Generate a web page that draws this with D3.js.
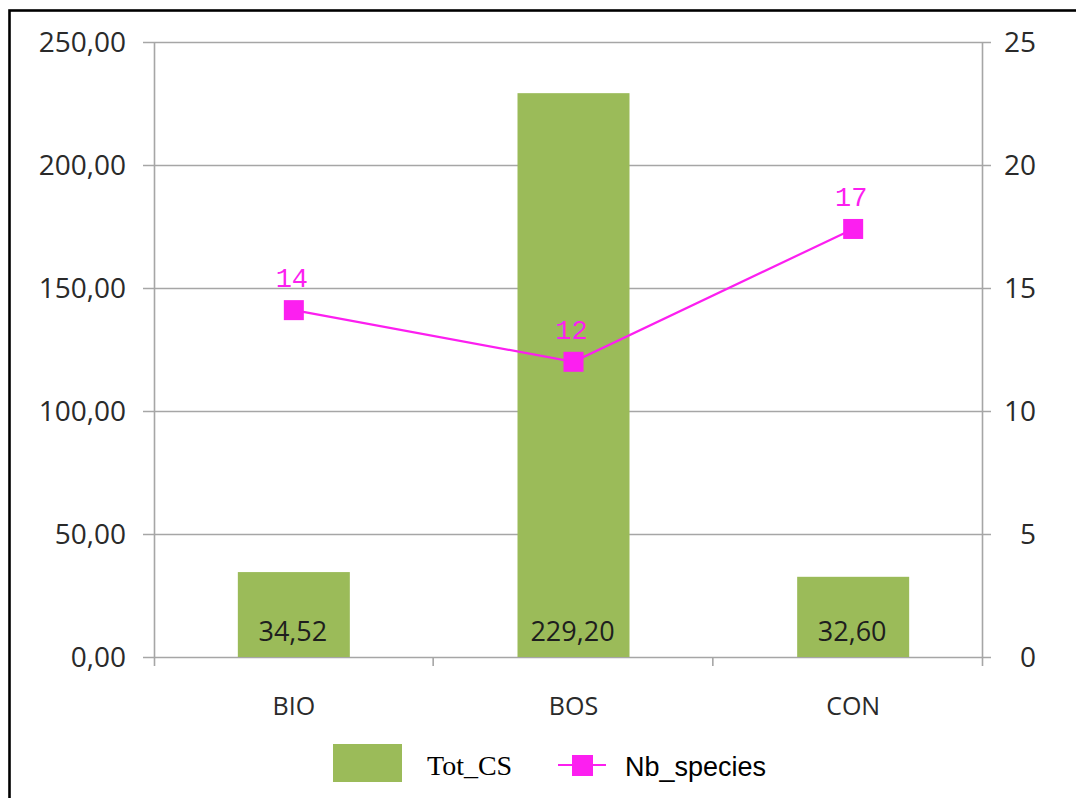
<!DOCTYPE html>
<html>
<head>
<meta charset="utf-8">
<script src="https://cdn.jsdelivr.net/npm/d3@7"></script>
<style>
  html, body { margin: 0; padding: 0; background: #fff; }
  svg { display: block; }
</style>
</head>
<body>
<script>
// ---- data ----
const categories = ["BIO", "BOS", "CON"];
const totCS = [34.52, 229.20, 32.60];
const nbSpecies = [14.1, 12.0, 17.4];
const leftTicks = [0, 50, 100, 150, 200, 250];
const rightTicks = [0, 5, 10, 15, 20, 25];
const seriesNames = ["Tot_CS", "Nb_species"];

(function () {
const W = 1076, H = 798;
const svg = d3.select("body").append("svg").attr("width", W).attr("height", H);
svg.append("rect").attr("width", W).attr("height", H).attr("fill", "#fff");

// frame (left and top edges visible)
svg.append("rect").attr("x", 9.5).attr("y", 10.5).attr("width", 1200).attr("height", 1000)
  .attr("fill", "none").attr("stroke", "#000").attr("stroke-width", 2.6);

const pLeft = 154, pRight = 982, pTop = 42, pBottom = 657;
const x = d3.scaleBand().domain(categories).range([pLeft, 993]).paddingInner(0).paddingOuter(0);
const yL = d3.scaleLinear().domain([0, 250]).range([pBottom, pTop]);
const yR = d3.scaleLinear().domain([0, 25]).range([pBottom, pTop]);

const gridColor = "#a6a6a6";
const fmtL = v => d3.format(".2f")(v).replace(".", ",");

// gridlines + left ticks
svg.append("g").selectAll("line").data(leftTicks).join("line")
  .attr("x1", pLeft - 11).attr("x2", pRight + 9)
  .attr("y1", d => yL(d) + 0.5).attr("y2", d => yL(d) + 0.5)
  .attr("stroke", gridColor).attr("stroke-width", 1.6);

// left & right axis lines
svg.append("line").attr("x1", pLeft + 0.5).attr("x2", pLeft + 0.5).attr("y1", pTop).attr("y2", pBottom + 9)
  .attr("stroke", gridColor).attr("stroke-width", 1.6);
svg.append("line").attr("x1", pRight + 0.5).attr("x2", pRight + 0.5).attr("y1", pTop).attr("y2", pBottom + 9)
  .attr("stroke", gridColor).attr("stroke-width", 1.6);

// category ticks
const catTicks = [x(categories[1]), x(categories[2])];
svg.append("g").selectAll("line").data(catTicks).join("line")
  .attr("x1", d => d - 0.5).attr("x2", d => d - 0.5)
  .attr("y1", pBottom).attr("y2", pBottom + 9)
  .attr("stroke", gridColor).attr("stroke-width", 1.6);

// left labels
svg.append("g").selectAll("text").data(leftTicks).join("text")
  .attr("x", 126).attr("y", d => yL(d)).attr("dy", "0.36em")
  .attr("text-anchor", "end").attr("font-family", "Open Sans").attr("font-size", 28)
  .attr("fill", "#2a2a2a").text(d => fmtL(d));

// right labels
svg.append("g").selectAll("text").data(rightTicks).join("text")
  .attr("x", 1036).attr("y", d => yR(d)).attr("dy", "0.36em")
  .attr("text-anchor", "end").attr("font-family", "Open Sans").attr("font-size", 28)
  .attr("fill", "#2a2a2a").text(d => d);

// category labels
svg.append("g").selectAll("text").data(categories).join("text")
  .attr("x", d => x(d) + x.bandwidth() / 2).attr("y", 715)
  .attr("text-anchor", "middle").attr("font-family", "Open Sans").attr("font-size", 25)
  .attr("fill", "#2a2a2a").text(d => d);

// bars
const green = "#9bbb59";
const barW = 112;
svg.append("g").selectAll("rect").data(categories).join("rect")
  .attr("x", d => x(d) + x.bandwidth() / 2 - barW / 2)
  .attr("y", (d, i) => yL(totCS[i]))
  .attr("width", barW)
  .attr("height", (d, i) => yL(0) - yL(totCS[i]))
  .attr("fill", green);

// bar labels
svg.append("g").selectAll("text").data(categories).join("text")
  .attr("x", d => x(d) + x.bandwidth() / 2 - 1).attr("y", 641)
  .attr("text-anchor", "middle").attr("font-family", "Open Sans").attr("font-size", 27)
  .attr("fill", "#1e1e1e").text((d, i) => fmtL(totCS[i]));

// line series
const magenta = "#fc1ff0";
const pts = categories.map((c, i) => [x(c) + x.bandwidth() / 2, yR(nbSpecies[i])]);
svg.append("path").attr("d", d3.line()(pts)).attr("fill", "none")
  .attr("stroke", magenta).attr("stroke-width", 2.2);
svg.append("g").selectAll("rect").data(pts).join("rect")
  .attr("x", d => d[0] - 10).attr("y", d => d[1] - 10).attr("width", 20).attr("height", 20)
  .attr("fill", magenta);
svg.append("g").selectAll("text").data(pts).join("text")
  .attr("x", d => d[0] - 2).attr("y", d => d[1] - 23)
  .attr("text-anchor", "middle").attr("font-family", "Liberation Mono").attr("font-size", 27)
  .attr("fill", magenta).text((d, i) => d3.format(".0f")(nbSpecies[i]));

// legend
const lg = svg.append("g");
lg.append("rect").attr("x", 333).attr("y", 744).attr("width", 69).attr("height", 38).attr("fill", green);
lg.append("text").attr("x", 427).attr("y", 775).attr("font-family", "Liberation Serif").attr("font-size", 28)
  .attr("fill", "#000").text(seriesNames[0]);
lg.append("line").attr("x1", 558).attr("x2", 606).attr("y1", 765).attr("y2", 765)
  .attr("stroke", magenta).attr("stroke-width", 2.2);
lg.append("rect").attr("x", 572).attr("y", 755).attr("width", 21).attr("height", 21).attr("fill", magenta);
lg.append("text").attr("x", 625).attr("y", 776).attr("font-family", "Liberation Sans").attr("font-size", 27)
  .attr("fill", "#000").text(seriesNames[1]);
})();
</script>
</body>
</html>
